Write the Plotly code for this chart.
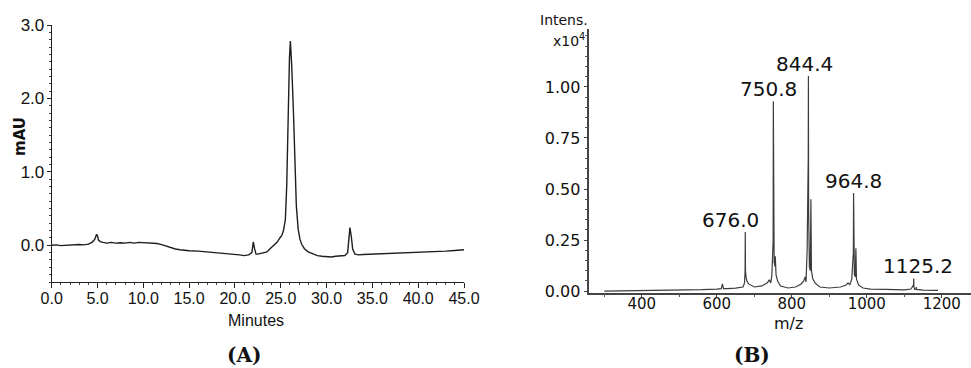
import plotly.graph_objects as go

# ---------------- Panel A: HPLC chromatogram ----------------
time_min = [0, 0.5, 1, 1.5, 2, 2.5, 3, 3.5, 4, 4.4, 4.7, 4.9, 5.0, 5.1, 5.3, 5.6, 6, 6.5, 7, 7.5,
            8, 8.5, 9, 9.5, 10, 10.5, 11, 11.5, 12, 12.5, 13, 13.5, 14, 14.5, 15, 16, 17, 18, 19, 20,
            20.5, 21, 21.5, 21.85, 22.0, 22.15, 22.3, 22.5, 23, 23.5, 23.8, 24.0, 24.3, 24.6, 24.9,
            25.1, 25.3, 25.5, 25.65, 25.8, 25.95, 26.05, 26.2, 26.4, 26.55, 26.7, 26.9, 27.1, 27.3,
            27.6, 28, 28.5, 29, 29.5, 30, 30.5, 31, 31.5, 32, 32.3, 32.45, 32.55, 32.7, 32.85, 33.1,
            33.5, 34, 35, 36, 37, 38, 39, 40, 41, 42, 43, 44, 45]
absorbance = [0.00, 0.005, -0.005, 0.0, 0.005, 0.0, 0.01, 0.005, 0.015, 0.04, 0.08, 0.15, 0.13, 0.07,
              0.05, 0.04, 0.03, 0.04, 0.03, 0.035, 0.03, 0.04, 0.03, 0.04, 0.035, 0.03, 0.035, 0.025,
              0.01, -0.01, -0.035, -0.05, -0.06, -0.07, -0.075, -0.08, -0.09, -0.095, -0.11, -0.12,
              -0.13, -0.14, -0.13, -0.10, 0.045, -0.05, -0.12, -0.12, -0.11, -0.09, -0.05, -0.03,
              0.0, 0.04, 0.10, 0.13, 0.20, 0.35, 0.80, 1.75, 2.55, 2.78, 2.44, 1.76, 1.08, 0.54, 0.22,
              0.08, 0.01, -0.05, -0.09, -0.12, -0.14, -0.15, -0.155, -0.16, -0.15, -0.15, -0.14,
              -0.10, 0.12, 0.24, 0.12, -0.05, -0.12, -0.13, -0.125, -0.12, -0.12, -0.115, -0.11,
              -0.105, -0.10, -0.095, -0.085, -0.08, -0.07, -0.06]
a_xticks = [0, 5, 10, 15, 20, 25, 30, 35, 40, 45]
a_xticklabels = ["0.0", "5.0", "10.0", "15.0", "20.0", "25.0", "30.0", "35.0", "40.0", "45.0"]
a_yticks = [0, 1, 2, 3]
a_yticklabels = ["0.0", "1.0", "2.0", "3.0"]

# ---------------- Panel B: mass spectrum ----------------
mz = [300, 400, 500, 560, 600, 612, 615, 618, 630, 650, 670, 674, 675.5, 676.0, 676.5, 678, 680,
      685, 700, 720, 735, 740, 744, 747, 750.3, 750.8, 751.3, 753, 755.5, 756, 758, 762, 770, 790,
      810, 825, 832, 836, 838, 841, 843.9, 844.4, 844.9, 847, 849.5, 851, 852.5, 856, 862, 875, 900,
      930, 945, 950, 955, 960, 964.3, 964.8, 965.3, 967, 969.5, 971, 972.5, 978, 990, 1010, 1050,
      1100, 1118, 1124.8, 1125.2, 1125.7, 1128, 1131, 1132, 1133, 1150, 1190]
intensity = [0.0, 0.002, 0.004, 0.007, 0.010, 0.012, 0.035, 0.012, 0.012, 0.014, 0.020, 0.04, 0.10,
             0.29, 0.10, 0.07, 0.05, 0.035, 0.020, 0.025, 0.04, 0.055, 0.04, 0.08, 0.25, 0.93, 0.25,
             0.14, 0.12, 0.17, 0.08, 0.05, 0.025, 0.015, 0.02, 0.035, 0.05, 0.07, 0.045, 0.20, 0.65,
             1.054, 0.40, 0.12, 0.10, 0.45, 0.10, 0.06, 0.04, 0.02, 0.015, 0.02, 0.03, 0.04, 0.03,
             0.06, 0.19, 0.48, 0.18, 0.08, 0.07, 0.21, 0.06, 0.03, 0.015, 0.01, 0.008, 0.006, 0.01,
             0.03, 0.062, 0.02, 0.008, 0.01, 0.02, 0.008, 0.005, 0.003]
peak_mz = [676.0, 750.8, 844.4, 964.8, 1125.2]
peak_int = [0.29, 0.93, 1.054, 0.48, 0.062]
peak_labels = ["676.0", "750.8", "844.4", "964.8", "1125.2"]
b_xticks = [400, 600, 800, 1000, 1200]
b_yticks = [0, 0.25, 0.5, 0.75, 1.0]
b_yticklabels = ["0.00", "0.25", "0.50", "0.75", "1.00"]

W, H = 971, 368
def px(x): return x / W
def py(y): return 1 - y / H

fig = go.Figure()
fig.add_trace(go.Scatter(x=time_min, y=absorbance, mode="lines",
                         line=dict(color="#1e1e1e", width=1.4), xaxis="x", yaxis="y",
                         showlegend=False, hoverinfo="skip"))
fig.add_trace(go.Scatter(x=mz, y=intensity, mode="lines",
                         line=dict(color="#3c3c3c", width=1.2), xaxis="x2", yaxis="y2",
                         showlegend=False, hoverinfo="skip"))

narrow = "Liberation Sans, Arial, sans-serif"
wide = "DejaVu Sans, Verdana, sans-serif"

def paper_text(text, x, y, font, xanchor="center", angle=0):
    return dict(text=text, x=px(x), y=py(y), xref="paper", yref="paper",
                xanchor=xanchor, yanchor="middle", showarrow=False, textangle=angle, font=font)

ann = [
    paper_text("Minutes", 256, 320, dict(family=narrow, size=16, color="#111")),
    paper_text("<b>mAU</b>", 20, 137, dict(family=wide, size=15, color="#111"), angle=-90),
    paper_text("m/z", 788, 323, dict(family=wide, size=16, color="#111")),
    paper_text("Intens.", 590, 20, dict(family=wide, size=14, color="#111"), xanchor="right"),
    paper_text("x10<sup>4</sup>", 587, 40, dict(family=wide, size=14, color="#111"), xanchor="right"),
    paper_text("<b>(A)</b>", 244, 355, dict(family="DejaVu Serif, Liberation Serif, serif", size=20, color="#111")),
    paper_text("<b>(B)</b>", 752, 355, dict(family="DejaVu Serif, Liberation Serif, serif", size=20, color="#111")),
]

label_xshift = [-15, -5, -4, 0, 4]
for m, v, t, xs in zip(peak_mz, peak_int, peak_labels, label_xshift):
    ann.append(dict(text=t, x=m, y=v, xref="x2", yref="y2", xanchor="center", yanchor="bottom",
                    xshift=xs, yshift=-2, showarrow=False,
                    font=dict(family=wide, size=20, color="#111")))

fig.update_layout(
    width=W, height=H, margin=dict(l=0, r=0, t=0, b=0, autoexpand=False),
    paper_bgcolor="white", plot_bgcolor="white",
    annotations=ann,
    xaxis=dict(domain=[px(51.7), px(464)], range=[0, 45], showgrid=False, zeroline=False,
               automargin=False,
               showline=True, linecolor="#222", linewidth=1, anchor="y",
               tickmode="array", tickvals=a_xticks, ticktext=a_xticklabels,
               ticks="outside", ticklen=5, tickcolor="#222", tickwidth=1, ticklabelstandoff=-3,
               tickfont=dict(family=narrow, size=16, color="#111"),
               minor=dict(dtick=1, tick0=0, ticks="outside", ticklen=2, tickcolor="#444")),
    yaxis=dict(domain=[1 - 282 / H, 1 - 25 / H], range=[-0.5, 3.0], showgrid=False, zeroline=False,
               automargin=False,
               showline=True, linecolor="#222", linewidth=1, anchor="x",
               tickmode="array", tickvals=a_yticks, ticktext=a_yticklabels,
               ticks="outside", ticklen=4, tickcolor="#222", tickwidth=1, ticklabelstandoff=-1,
               tickfont=dict(family=narrow, size=17, color="#111"),
               minor=dict(dtick=0.1, tick0=0, ticks="outside", ticklen=2, tickcolor="#444")),
    xaxis2=dict(domain=[px(589.3), 1.0], range=[260, 1278], showgrid=False, zeroline=False,
                automargin=False,
                showline=True, linecolor="#444", linewidth=1.5, anchor="y2",
                tickmode="array", tickvals=b_xticks,
                ticks="outside", ticklen=4, tickcolor="#444", tickwidth=1, ticklabelstandoff=-7,
                tickfont=dict(family=wide, size=15, color="#111"),
                minor=dict(dtick=100, tick0=0, ticks="outside", ticklen=3, tickcolor="#555")),
    yaxis2=dict(domain=[1 - 292.7 / H, 1 - 29 / H], range=[-0.008, 1.284], showgrid=False,
                zeroline=False, showline=True, linecolor="#444", linewidth=1.5, anchor="x2",
                automargin=False,
                tickmode="array", tickvals=b_yticks, ticktext=b_yticklabels,
                ticks="outside", ticklen=4, tickcolor="#444", tickwidth=1,
                tickfont=dict(family=wide, size=16, color="#111"),
                minor=dict(dtick=0.05, tick0=0, ticks="outside", ticklen=3, tickcolor="#555")),
)

fig.write_html("out.html", config={"displayModeBar": False},
               post_script="document.body.style.margin='0';")
